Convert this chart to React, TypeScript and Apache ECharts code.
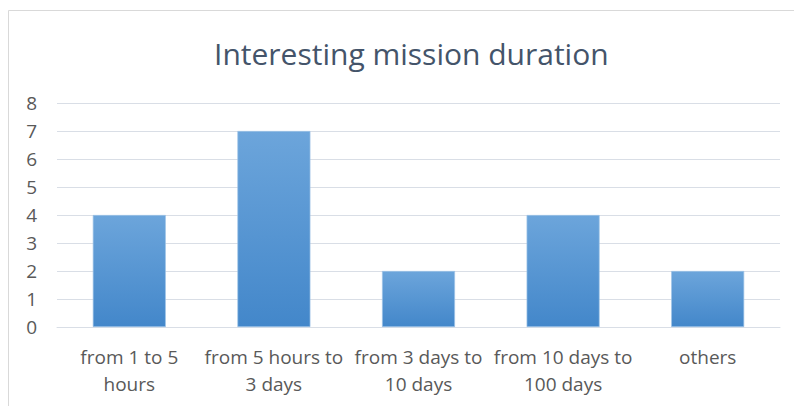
import React, { useEffect, useRef } from "react";
import * as echarts from "echarts";

const categories = [
  "from 1 to 5 hours",
  "from 5 hours to 3 days",
  "from 3 days to 10 days",
  "from 10 days to 100 days",
  "others",
];
const tickLabels = [
  "from 1 to 5\nhours",
  "from 5 hours to\n3 days",
  "from 3 days to\n10 days",
  "from 10 days to\n100 days",
  "others",
];
const counts = [4, 7, 2, 4, 2];
const title = "Interesting mission duration";

export default function App() {
  const ref = useRef<HTMLDivElement>(null);
  useEffect(() => {
    if (!ref.current) return;
    const chart = echarts.init(ref.current, null, { renderer: "svg" });
    const font = "'Open Sans', Lato, sans-serif";
    chart.setOption({
      animation: false,
      backgroundColor: "#ffffff",
      title: {
        text: title,
        left: 209,
        top: 33,
        textStyle: {
          fontFamily: font,
          fontSize: 30,
          fontWeight: "normal",
          color: "#44546A",
        },
      },
      graphic: [
        {
          type: "rect",
          shape: { x: 8.5, y: 10.5, width: 900, height: 500 },
          style: { fill: "none", stroke: "#D9D9D9", lineWidth: 1 },
          silent: true,
        },
      ],
      grid: { left: 57, right: 14, top: 103, bottom: 79 },
      xAxis: {
        type: "category",
        data: categories,
        axisLine: { show: true, lineStyle: { color: "#D9DEE6", width: 1 } },
        axisTick: { show: false },
        axisLabel: {
          interval: 0,
          margin: 16,
          fontFamily: font,
          fontSize: 19,
          lineHeight: 27,
          color: "#595959",
          formatter: (_v: string, i: number) => tickLabels[i],
        },
      },
      yAxis: {
        type: "value",
        min: 0,
        max: 8,
        interval: 1,
        axisLine: { show: false },
        axisTick: { show: false },
        axisLabel: {
          margin: 20,
          fontFamily: font,
          fontSize: 19,
          color: "#595959",
        },
        splitLine: { lineStyle: { color: "#D9DEE6", width: 1 } },
      },
      series: [
        {
          type: "bar",
          data: counts,
          barWidth: 73,
          itemStyle: {
            color: new echarts.graphic.LinearGradient(0, 0, 0, 1, [
              { offset: 0, color: "#6CA5DB" },
              { offset: 1, color: "#4387CA" },
            ]),
            borderColor: "#9DC3E6",
            borderWidth: 0.7,
          },
        },
      ],
    });
    return () => chart.dispose();
  }, []);
  return (
    <div
      ref={ref}
      style={{ position: "fixed", left: 0, top: 0, width: 794, height: 406 }}
    />
  );
}
